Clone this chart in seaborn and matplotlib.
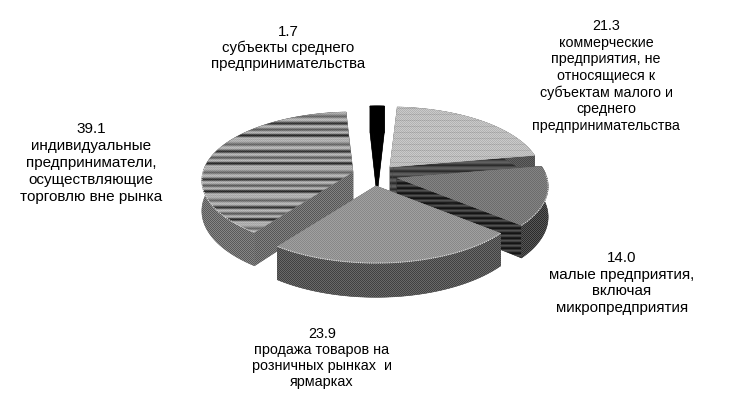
import numpy as np
import matplotlib
matplotlib.use('Agg')
import matplotlib.pyplot as plt
import seaborn as sns

values = [1.7, 21.3, 14.0, 23.9, 39.1]
labels = ['субъекты среднего\nпредпринимательства',
          'коммерческие\nпредприятия, не\nотносящиеся к\nсубъектам малого и\nсреднего\nпредпринимательства',
          'малые предприятия,\nвключая\nмикропредприятия',
          'продажа товаров на\nрозничных рынках  и\nярмарках',
          'индивидуальные\nпредприниматели,\nосуществляющие\nторговлю вне рынка']

# apex of every pulled out slice, in pixels
apex = [(377, 166), (390, 167), (397, 178), (376, 186), (353, 172)]
label_pos = [(288, 48), (606, 76), (622, 283), (322, 358), (91, 163)]
label_size = [10.8, 10.3, 10.9, 10.4, 11]
label_gap = [1.2, 1.23, 1.26, 1.2, 1.26]

A0, B0, K, DEPTH = 150, 67.5, 0.124, 30

sns.set_theme(style='white')
plt.rcParams['font.family'] = ['Liberation Sans', 'DejaVu Sans']

fig, ax = plt.subplots(figsize=(7.41, 4.05), dpi=100)
fig.subplots_adjust(0, 0, 1, 1)

wedges, _ = ax.pie(values, startangle=93, counterclock=False)
angles = [(w.theta1, w.theta2) for w in wedges]
for w in wedges:
    w.remove()
ax.set_aspect('auto')
ax.set_xlim(0, 741)
ax.set_ylim(405, 0)
ax.axis('off')

yy, xx = np.mgrid[0:405, 0:741]


def rows(seq):
    return np.array(seq, dtype=float)[yy % len(seq)]


def dither(base, amp, px=1):
    return base + amp * (((xx // px) + (yy // px)) % 2 * 2 - 1)


stripes = [178, 170, 150, 125, 105, 130, 165, 182, 175, 140, 85, 55, 95, 160, 182, 165,
           125, 95, 115, 160, 178, 150, 75, 45, 90, 155, 182, 170]
radial_dark = [80, 62, 30, 20, 50]
radial_light = [95, 80, 55, 45, 70, 90]

top_tex = [np.zeros((405, 741)),
           dither(190, 12) - 16 * (yy % 6 == 0),
           dither(120, 12),
           dither(148, 12),
           rows(stripes) + dither(0, 8)]
arc_tex = [np.zeros((405, 741)),
           dither(85, 14),
           dither(65, 22),
           dither(85, 20),
           dither(112, 22)]
side_tex = [np.zeros((405, 741)),
            rows(radial_light),
            rows(radial_dark),
            dither(85, 20),
            dither(108, 22)]


def project(theta, centre):
    t = np.radians(theta)
    u, v = np.cos(t), -np.sin(t)
    s = 1 / (1 - K * v)
    return centre[0] + A0 * u * s, centre[1] + B0 * v * s, DEPTH * s


def textured(poly, tex, z):
    shade = str(np.clip(tex.mean(), 0, 255) / 255)
    patch = plt.Polygon(poly, closed=True, fc=shade, ec=shade, lw=0.4, zorder=z)
    ax.add_patch(patch)
    im = ax.imshow(tex, cmap='gray', vmin=0, vmax=255, extent=(0, 741, 405, 0),
                   interpolation='nearest', aspect='auto', zorder=z)
    im.set_clip_path(patch)


draw_order = [0, 1, 4, 2, 3]
for n, i in enumerate(draw_order):
    th = np.linspace(angles[i][0], angles[i][1], 80)
    x, y, d = project(th, apex[i])
    cx, cy = apex[i]
    dc = DEPTH
    z = 2 + n

    # two cut faces, then the outer wall, then the top
    for end in (0, -1):
        quad = [(cx, cy), (x[end], y[end]), (x[end], y[end] + d[end]), (cx, cy + dc)]
        textured(quad, side_tex[i], z)
    wall = np.vstack([np.column_stack([x, y]), np.column_stack([x, y + d])[::-1]])
    textured(wall, arc_tex[i], z + 0.1)
    top = np.vstack([[(cx, cy)], np.column_stack([x, y])])
    textured(top, top_tex[i], z + 0.2)

    # dotted light rim on the part of the edge that faces the viewer
    if i != 0:
        front = (y - cy) > -5
        ax.plot(x[front], y[front], color='#e0e0e0', lw=0.8, ls=(0, (1, 1)), zorder=z + 0.3)

ax.set_xlim(0, 741)
ax.set_ylim(405, 0)

for val, lab, (tx, ty), fs, gap in zip(values, labels, label_pos, label_size, label_gap):
    ax.text(tx, ty, '{:.1f}\n{}'.format(val, lab), ha='center', va='center', ma='center',
            fontsize=fs, color='black', linespacing=gap, zorder=20)

fig.savefig('out.png', dpi=100, facecolor='white')
